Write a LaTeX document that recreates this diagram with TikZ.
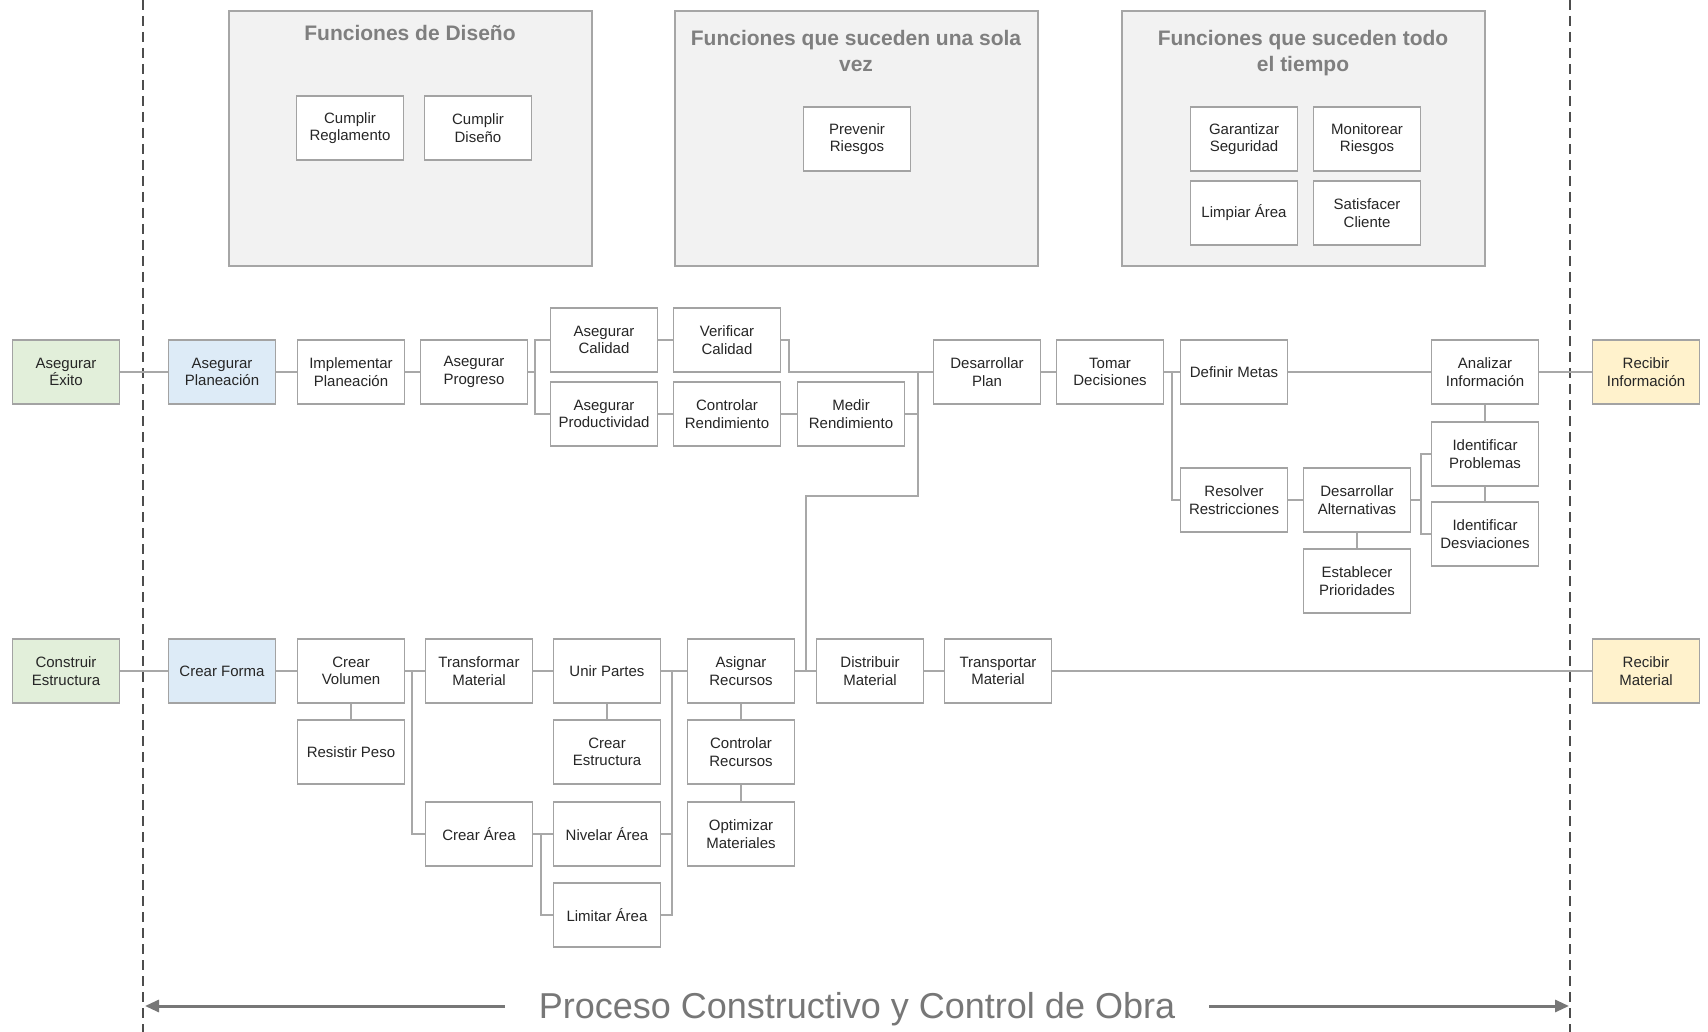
\documentclass[tikz,border=0pt]{standalone}
\usepackage{fontspec}
\setmainfont{Liberation Sans}
\usetikzlibrary{arrows.meta}
\definecolor{boxline}{HTML}{A3A3A3}
\definecolor{connline}{HTML}{A8A8A8}
\definecolor{txt}{HTML}{262626}
\definecolor{ttl}{HTML}{7F7F7F}
\definecolor{gfill}{HTML}{E2EFDA}
\definecolor{bfill}{HTML}{DDEBF7}
\definecolor{yfill}{HTML}{FFF2CC}
\definecolor{pfill}{HTML}{F2F2F2}
\definecolor{pline}{HTML}{A6A6A6}
\definecolor{dashc}{HTML}{4D4D4D}
\definecolor{arrc}{HTML}{777777}
\begin{document}
\begin{tikzpicture}[x=1pt,y=-1pt,
  fn/.style={draw=boxline, line width=1.3pt, fill=white, minimum width=107pt, minimum height=64pt,
    inner sep=0pt, align=center, font=\fontsize{15}{17.5}\selectfont, text=txt},
  gn/.style={fn, fill=gfill},
  bn/.style={fn, fill=bfill},
  yn/.style={fn, fill=yfill},
  panel/.style={draw=pline, line width=1.3pt, fill=pfill, minimum width=363pt, minimum height=255pt, inner sep=0pt},
  ptitle/.style={font=\fontsize{21}{26}\selectfont\bfseries, text=ttl, align=center, inner sep=0pt},
  conn/.style={draw=connline, line width=1.8pt},
  sepline/.style={draw=dashc, line width=1.8pt, dash pattern=on 10pt off 6pt},
  bigarrow/.style={draw=arrc, line width=3pt, -{Triangle[length=14pt,width=12pt]}}
]
\useasboundingbox (0,0) rectangle (1708,1032);
\fill[white] (0,0) rectangle (1708,1032);

% separators
\coordinate (dl1) at (143,0); \coordinate (dl2) at (143,1032);
\coordinate (dr1) at (1570,0); \coordinate (dr2) at (1570,1032);
\draw[sepline] (dl1) -- (dl2);
\draw[sepline] (dr1) -- (dr2);

% top panels
\node[panel] (p1) at (410.5,138.5) {};
\node[panel] (p2) at (856.5,138.5) {};
\node[panel] (p3) at (1303.5,138.5) {};
\node[ptitle] (t1) at (410,33) {Funciones de Diseño};
\node[ptitle] (t2) at (856,51) {Funciones que suceden una sola\\vez};
\node[ptitle] (t3) at (1303,53) {Funciones que suceden todo\\el tiempo};
\node[fn] (creg) at (350,128) {Cumplir\\Reglamento};
\node[fn] (cdis) at (478,128) {Cumplir\\Diseño};
\node[fn] (prev) at (857,139) {Prevenir\\Riesgos};
\node[fn] (gseg) at (1244,139) {Garantizar\\Seguridad};
\node[fn] (mries) at (1367,139) {Monitorear\\Riesgos};
\node[fn] (limp) at (1244,213) {Limpiar Área};
\node[fn] (satis) at (1367,213) {Satisfacer\\Cliente};

% bus coordinates
\coordinate (b1) at (535,372);
\coordinate (b2) at (789,372);
\coordinate (b3) at (918,372);
\coordinate (b4) at (918,496);
\coordinate (b5) at (806,496);
\coordinate (b6) at (806,671);
\coordinate (b7) at (1172,372);
\coordinate (b8) at (1421,500);
\coordinate (b9) at (412,671);
\coordinate (b10) at (541,834);
\coordinate (b11) at (672,671);

% row A nodes
\node[gn] (exito) at (66,372) {Asegurar\\Éxito};
\node[bn] (aplan) at (222,372) {Asegurar\\Planeación};
\node[fn] (implan) at (351,372) {Implementar\\Planeación};
\node[fn] (aprog) at (474,372) {Asegurar\\Progreso};
\node[fn] (acal) at (604,340) {Asegurar\\Calidad};
\node[fn] (aprod) at (604,414) {Asegurar\\Productividad};
\node[fn] (vcal) at (727,340) {Verificar\\Calidad};
\node[fn] (crend) at (727,414) {Controlar\\Rendimiento};
\node[fn] (medir) at (851,414) {Medir\\Rendimiento};
\node[fn] (dplan) at (987,372) {Desarrollar\\Plan};
\node[fn] (tomar) at (1110,372) {Tomar\\Decisiones};
\node[fn] (metas) at (1234,372) {Definir Metas};
\node[fn] (analizar) at (1485,372) {Analizar\\Información};
\node[yn] (rinfo) at (1646,372) {Recibir\\Información};
\node[fn] (resolver) at (1234,500) {Resolver\\Restricciones};
\node[fn] (dalt) at (1357,500) {Desarrollar\\Alternativas};
\node[fn] (estab) at (1357,581) {Establecer\\Prioridades};
\node[fn] (iprob) at (1485,454) {Identificar\\Problemas};
\node[fn] (idesv) at (1485,534) {Identificar\\Desviaciones};

% row B nodes
\node[gn] (construir) at (66,671) {Construir\\Estructura};
\node[bn] (cforma) at (222,671) {Crear Forma};
\node[fn] (cvol) at (351,671) {Crear\\Volumen};
\node[fn] (rpeso) at (351,752) {Resistir Peso};
\node[fn] (tmat) at (479,671) {Transformar\\Material};
\node[fn] (carea) at (479,834) {Crear Área};
\node[fn] (unir) at (607,671) {Unir Partes};
\node[fn] (cest) at (607,752) {Crear\\Estructura};
\node[fn] (nivelar) at (607,834) {Nivelar Área};
\node[fn] (limitar) at (607,915) {Limitar Área};
\node[fn] (asignar) at (741,671) {Asignar\\Recursos};
\node[fn] (crec) at (741,752) {Controlar\\Recursos};
\node[fn] (optim) at (741,834) {Optimizar\\Materiales};
\node[fn] (dist) at (870,671) {Distribuir\\Material};
\node[fn] (transp) at (998,671) {Transportar\\Material};
\node[yn] (rmat) at (1646,671) {Recibir\\Material};

% row A connectors
\draw[conn] (exito.east) -- (aplan.west);
\draw[conn] (aplan.east) -- (implan.west);
\draw[conn] (implan.east) -- (aprog.west);
\draw[conn] (aprog.east) -- (b1);
\draw[conn] (acal.west) -| (b1);
\draw[conn] (aprod.west) -| (b1);
\draw[conn] (acal.east) -- (vcal.west);
\draw[conn] (vcal.east) -| (b2) -- (dplan.west);
\draw[conn] (aprod.east) -- (crend.west);
\draw[conn] (crend.east) -- (medir.west);
\draw[conn] (medir.east) -| (b3);
\draw[conn] (b3) -- (b4) -- (b5) -- (b6);
\draw[conn] (dplan.east) -- (tomar.west);
\draw[conn] (tomar.east) -- (metas.west);
\draw[conn] (resolver.west) -| (b7);
\draw[conn] (metas.east) -- (analizar.west);
\draw[conn] (analizar.east) -- (rinfo.west);
\draw[conn] (analizar.south) -- (iprob.north);
\draw[conn] (iprob.south) -- (idesv.north);
\draw[conn] (resolver.east) -- (dalt.west);
\draw[conn] (dalt.east) -- (b8);
\draw[conn] (iprob.west) -| (b8);
\draw[conn] (idesv.west) -| (b8);
\draw[conn] (dalt.south) -- (estab.north);

% row B connectors
\draw[conn] (construir.east) -- (cforma.west);
\draw[conn] (cforma.east) -- (cvol.west);
\draw[conn] (cvol.south) -- (rpeso.north);
\draw[conn] (cvol.east) -- (tmat.west);
\draw[conn] (carea.west) -| (b9);
\draw[conn] (tmat.east) -- (unir.west);
\draw[conn] (unir.south) -- (cest.north);
\draw[conn] (carea.east) -- (nivelar.west);
\draw[conn] (limitar.west) -| (b10);
\draw[conn] (unir.east) -- (asignar.west);
\draw[conn] (nivelar.east) -| (b11);
\draw[conn] (limitar.east) -| (b11);
\draw[conn] (asignar.south) -- (crec.north);
\draw[conn] (crec.south) -- (optim.north);
\draw[conn] (asignar.east) -- (dist.west);
\draw[conn] (dist.east) -- (transp.west);
\draw[conn] (transp.east) -- (rmat.west);

% bottom label
\node[font=\fontsize{36}{40}\selectfont, text=arrc, inner xsep=34pt, inner ysep=0pt] (lbl) at (857,1009) {Proceso Constructivo y Control de Obra};
\coordinate (la) at (145,1006);
\coordinate (ra) at (1569,1006);
\draw[bigarrow] (lbl.west |- la) -- (la);
\draw[bigarrow] (lbl.east |- ra) -- (ra);
\end{tikzpicture}
\end{document}
